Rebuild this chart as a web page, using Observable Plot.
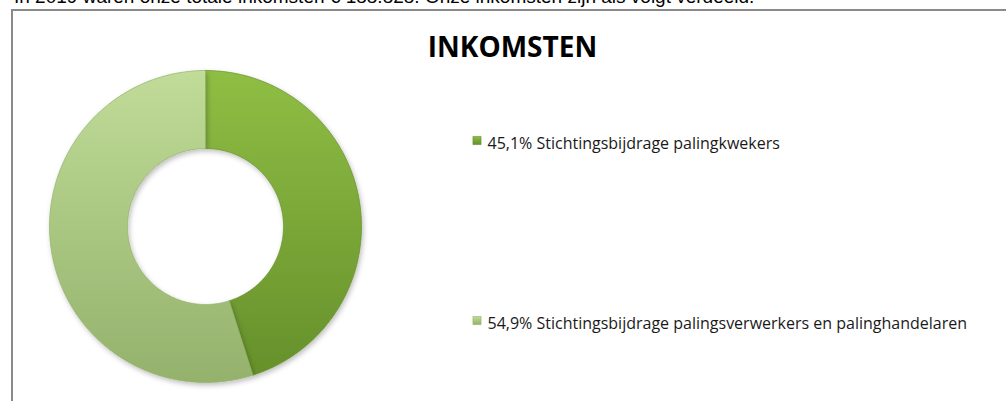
<!DOCTYPE html>
<html>
<head>
<meta charset="utf-8">
<script src="https://cdn.jsdelivr.net/npm/d3@7"></script>
<script src="https://cdn.jsdelivr.net/npm/@observablehq/plot@0.6"></script>
<style>
  html, body { margin: 0; padding: 0; background: #fff; width: 1006px; height: 401px; overflow: hidden; }
  #intro { position: absolute; left: 14px; top: -14px; font-family: "Liberation Sans", Arial, sans-serif; font-size: 19px; line-height: 22px; color: #000; white-space: nowrap; }
  #frame { position: absolute; left: 11px; top: 9px; width: 1100px; height: 500px; border-left: 2px solid #8a8a8a; border-top: 2px solid #8a8a8a; }
  #chart { position: absolute; left: 0; top: 0; }
</style>
</head>
<body>
<div id="intro">In 2019 waren onze totale inkomsten € 188.828. Onze inkomsten zijn als volgt verdeeld.</div>
<div id="frame"></div>
<div id="chart"></div>
<script>
// ---- data ----
const title = "INKOMSTEN";
const labels = ["Stichtingsbijdrage palingkwekers", "Stichtingsbijdrage palingsverwerkers en palinghandelaren"];
const percentLabels = ["45,1%", "54,9%"];
const shares = [45.1, 54.9];
const colorsTop = ["#8fbe44", "#c0dc98"];
const colorsBottom = ["#66902b", "#94b26c"];

// ---- geometry (computed from data) ----
const innerRatio = 0.5;
const pie = d3.pie().sort(null).startAngle(0).endAngle(2 * Math.PI)(shares);
const slices = pie.map((p, i) => {
  const pts = [];
  const n = 200;
  for (let k = 0; k <= n; k++) {
    const a = p.startAngle + (p.endAngle - p.startAngle) * k / n;
    pts.push({x: Math.sin(a), y: Math.cos(a), i});
  }
  for (let k = n; k >= 0; k--) {
    const a = p.startAngle + (p.endAngle - p.startAngle) * k / n;
    pts.push({x: innerRatio * Math.sin(a), y: innerRatio * Math.cos(a), i});
  }
  pts.push(pts[0]);
  return pts;
});

const legendItems = labels.map((l, i) => ({text: percentLabels[i] + " " + l, i}));
const legendY = [140, 320];

const marks = [];
slices.forEach((pts, i) => {
  marks.push(Plot.line(pts, {x: "x", y: "y", fill: `url(#grad${i})`, stroke: colorsBottom[i], strokeWidth: 0.8, strokeOpacity: 0.9, curve: "linear-closed"}));
});
marks.push(Plot.text([title], {frameAnchor: "top-left", dx: 512, dy: 37, text: d => d, textAnchor: "middle", fontFamily: "Open Sans", fontWeight: "bold", fontSize: 28, fill: "#000"}));
legendItems.forEach((d, j) => {
  marks.push(Plot.dot([d], {frameAnchor: "top-left", dx: 476.5, dy: legendY[j], symbol: "square", r: 4.6, fill: `url(#lgrad${d.i})`, stroke: colorsBottom[d.i], strokeWidth: 0.6}));
  marks.push(Plot.text([d], {frameAnchor: "top-left", dx: 487, dy: legendY[j] - 3, text: "text", textAnchor: "start", fontFamily: "Open Sans", fontSize: 16, fill: "#1a1a1a"}));
});

const chart = Plot.plot({
  width: 1006,
  height: 401,
  margin: 0,
  x: {domain: [-1, 1], range: [49, 361], axis: null},
  y: {domain: [-1, 1], range: [382, 70], axis: null},
  style: {background: "transparent", overflow: "visible"},
  marks
});

const svg = d3.select(chart);
const defs = svg.insert("defs", ":first-child");
const f = defs.append("filter").attr("id", "shadow").attr("x", "-10%").attr("y", "-10%").attr("width", "130%").attr("height", "130%");
f.append("feDropShadow").attr("dx", 1.5).attr("dy", 2.5).attr("stdDeviation", 2.5).attr("flood-color", "#000").attr("flood-opacity", 0.25);
shares.forEach((_, i) => {
  for (const id of [`grad${i}`, `lgrad${i}`]) {
    const g = defs.append("linearGradient").attr("id", id).attr("x1", 0).attr("y1", 0).attr("x2", 0).attr("y2", 1);
    g.append("stop").attr("offset", "0%").attr("stop-color", colorsTop[i]);
    g.append("stop").attr("offset", "100%").attr("stop-color", colorsBottom[i]);
  }
});
svg.selectAll("g[aria-label='line']").attr("filter", "url(#shadow)");
document.getElementById("chart").appendChild(chart);
</script>
</body>
</html>
